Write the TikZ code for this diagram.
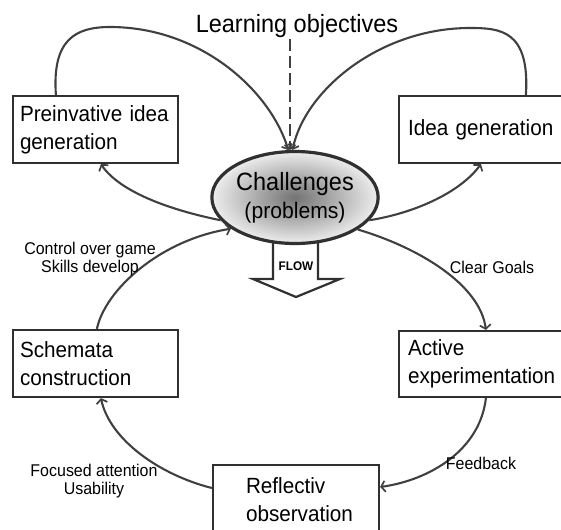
\documentclass[tikz,border=0pt]{standalone}
\usepackage{fontspec}
\setmainfont{Liberation Sans}[FakeStretch=0.94]
\usetikzlibrary{arrows.meta,shapes.geometric}
\hyphenpenalty=10000 \exhyphenpenalty=10000 \hbadness=10000 \hfuzz=100pt
\definecolor{ln}{HTML}{404040}
\definecolor{bx}{HTML}{303030}
\begin{document}
\begin{tikzpicture}[x=1pt,y=-1pt,
  box/.style={draw=bx, line width=2.2pt, fill=white, rectangle, inner ysep=0pt, align=left, font=\fontsize{22}{28}\selectfont},
  arr/.style={draw=ln, line width=2.1pt, -{Straight Barb[length=4pt,width=11pt,line width=1.7pt]}},
  lbl/.style={font=\fontsize{17}{18}\selectfont, align=center, inner sep=0pt},
]
\useasboundingbox (0,0) rectangle (561,529);

% boxes
\node[box, minimum width=165pt, minimum height=67pt, inner xsep=7pt, text width=151pt] (pre) at (95.5,129.5) {Preinvative idea\\generation};
\node[box, minimum width=170pt, minimum height=67pt, inner xsep=9pt, text width=152pt] (idea) at (484,129.5) {Idea generation};
\node[box, minimum width=165pt, minimum height=67pt, inner xsep=7pt, text width=151pt] (sch) at (95.5,363.5) {Schemata\\construction};
\node[box, minimum width=170pt, minimum height=66pt, inner xsep=9pt, text width=152pt] (act) at (484,364) {Active\\experimentation};
\node[box, minimum width=166pt, minimum height=70pt, inner xsep=33pt, text width=100pt] (ref) at (296,500) {Reflectiv\\observation};

% flow arrow
\draw[draw=bx, line width=2.2pt, fill=white, line join=miter] (273,238) -- (273,279) -- (253,279) -- (296,297) -- (340,279) -- (318,279) -- (318,238);
\node[font=\bfseries\fontsize{12.5}{14}\selectfont, inner sep=0pt] (flow) at (296,266) {FLOW};

% central ellipse
\node[ellipse, draw=bx, line width=3.2pt, minimum width=161pt, minimum height=92pt, inner sep=0pt,
      inner color=black!55, outer color=white!93!black, align=center, font=\fontsize{25}{28}\selectfont] (ch) at (295,197.5)
      {Challenges\\{\fontsize{22.5}{28}\selectfont (problems)}};

% learning objectives
\node[font=\fontsize{25}{28}\selectfont, anchor=base, inner sep=1pt] (lo) at (297,33) {Learning objectives};
\draw[draw=ln, line width=1.6pt, dash pattern=on 12pt off 5pt, -{Straight Barb[length=4pt,width=11pt,line width=1.7pt]}] (lo.south -| ch.96) -- (ch.96);

% loops
\coordinate (ltop) at (110,27);
\coordinate (rtop) at (470,28);
\draw[arr] ([xshift=44pt]pre.north west) .. controls (52,40) and (75,27) .. (ltop) .. controls (200,27) and (270,90) .. (ch.98);
\draw[arr] ([xshift=128pt]idea.north west) .. controls (530,30) and (500,28) .. (rtop) .. controls (380,28) and (305,90) .. (ch.93);

% cycle arrows
\draw[arr] (ch.-17) .. controls (420,212) and (462,190) .. ([xshift=83pt]idea.south west);
\draw[arr] (ch.197) .. controls (170,210) and (120,192) .. ([xshift=89pt]pre.south west);
\draw[arr] ([xshift=85pt]sch.north west) .. controls (105,290) and (160,240) .. (ch.206);
\draw[arr] ([yshift=12pt]ref.west) .. controls (160,475) and (110,440) .. ([xshift=89pt]sch.south west);
\draw[arr] (ch.-27) .. controls (420,248) and (480,285) .. ([xshift=88pt]act.north west);
\draw[arr] ([xshift=88pt]act.south west) .. controls (480,450) and (430,480) .. ([yshift=13pt]ref.east);

% labels
\node[lbl] (ctrl) at (90,259) {Control over game\\Skills develop};
\node[lbl] (clear) at (492,267) {Clear Goals};
\node[lbl] (feed) at (481,463) {Feedback};
\node[lbl] (foc) at (94,481) {Focused attention\\Usability};
\end{tikzpicture}
\end{document}
